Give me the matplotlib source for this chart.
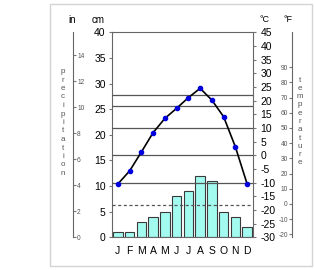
import matplotlib
matplotlib.use("Agg")
import matplotlib.pyplot as plt
from matplotlib.patches import Rectangle

plt.rcParams["font.family"] = ["Liberation Sans", "DejaVu Sans"]
plt.rcParams["axes.unicode_minus"] = False

# datos
meses = ["J", "F", "M", "A", "M", "J", "J", "A", "S", "O", "N", "D"]
precip_cm = [1, 1, 3, 4, 5, 8, 9, 12, 11, 5, 4, 2]
temp_c = [-10.5, -5.7, 1.2, 8.3, 13.5, 17.2, 21.1, 24.5, 20.2, 14.1, 3.1, -10.5]
lineas_c = [22, 18, 10, 0, -10]
linea_seca_cm = 6.3

W, H = 315, 270
fig = plt.figure(figsize=(W / 100, H / 100), dpi=100)

def caja(x0, y0, x1, y1):
    # pixeles -> coordenadas de figura
    return [x0 / W, 1 - y1 / H, (x1 - x0) / W, (y1 - y0) / H]

# marco gris
fig.patches.append(Rectangle((50 / W, 1 - 266 / H), 262 / W, 262 / H,
                             transform=fig.transFigure, fill=False,
                             edgecolor="#d4d4d4", linewidth=1.0))

gris = "#777777"
fs = 7.5

# =========================
# eje principal (cm)
# =========================
ax = fig.add_axes(caja(112, 32.3, 253, 237.3))
x = list(range(len(meses)))
ax.bar(x, precip_cm, width=0.8, color="#a3fbf0", edgecolor="#3a3a3a",
       linewidth=0.8, zorder=1)
ax.set_xlim(-0.5, 11.5)
ax.set_ylim(0, 40)
ax.set_yticks(range(0, 41, 5))
ax.set_xticks(x)
ax.set_xticklabels(meses)
ax.tick_params(axis="y", direction="out", length=2.5, color=gris,
               labelsize=fs, pad=2)
ax.tick_params(axis="x", length=0, labelsize=fs, pad=6)
ax.axhline(linea_seca_cm, color="#555555", linestyle=(0, (2.5, 2)),
           linewidth=0.9, zorder=3)
for s in ax.spines.values():
    s.set_color("#666666")
    s.set_linewidth(0.8)

# temperatura (°C)
ax2 = ax.twinx()
ax2.set_ylim(-30, 45)
ax2.set_yticks(range(-30, 46, 5))
ax2.tick_params(axis="y", direction="out", length=2.5, color=gris,
                labelsize=fs, pad=3)
for v in lineas_c:
    ax2.axhline(v, color="#555555", linewidth=0.9, zorder=2)
ax2.plot(x, temp_c, color="black", linewidth=1.2, zorder=4)
ax2.plot(x, temp_c, "o", color="#0000dd", markersize=3.0, zorder=5)
for s in ax2.spines.values():
    s.set_visible(False)

# =========================
# eje de pulgadas
# =========================
ax_in = fig.add_axes(caja(72.7, 32.3, 72.9, 237.3))
ax_in.set_ylim(0, 40 / 2.54)
ax_in.set_xticks([])
ax_in.yaxis.set_ticks_position("right")
ax_in.set_yticks(range(0, 15, 2))
ax_in.tick_params(axis="y", direction="out", length=2, color=gris,
                  labelsize=4.8, labelcolor="#555555", pad=1)
for k, s in ax_in.spines.items():
    s.set_visible(k == "right")
ax_in.spines["right"].set_color("#666666")
ax_in.patch.set_visible(False)

# =========================
# eje Fahrenheit
# =========================
ax_f = fig.add_axes(caja(292, 32.3, 292.2, 237.3))
ax_f.set_ylim(-30 * 9 / 5 + 32, 45 * 9 / 5 + 32)
ax_f.set_xticks([])
ax_f.set_yticks(range(-20, 91, 10))
ax_f.tick_params(axis="y", direction="out", length=2, color=gris,
                 labelsize=4.8, labelcolor="#555555", pad=1)
for k, s in ax_f.spines.items():
    s.set_visible(k == "left")
ax_f.spines["left"].set_color("#666666")
ax_f.patch.set_visible(False)

# textos
fig.text(72 / W, 1 - 20 / H, "in", fontsize=7, ha="center", va="center")
fig.text(98 / W, 1 - 20 / H, "cm", fontsize=7, ha="center", va="center")
fig.text(264 / W, 1 - 20 / H, "°C", fontsize=6.5, ha="center", va="center")
fig.text(288 / W, 1 - 20 / H, "°F", fontsize=6.5, ha="center", va="center")
fig.text(63 / W, 1 - 122.5 / H, "\n".join("precipitation"), fontsize=5.8,
         color="#555555", ha="center", va="center", linespacing=1.3)
fig.text(300 / W, 1 - 121.5 / H, "\n".join("temperature"), fontsize=5.8,
         color="#555555", ha="center", va="center", linespacing=1.25)

plt.savefig("out.png", dpi=100)
